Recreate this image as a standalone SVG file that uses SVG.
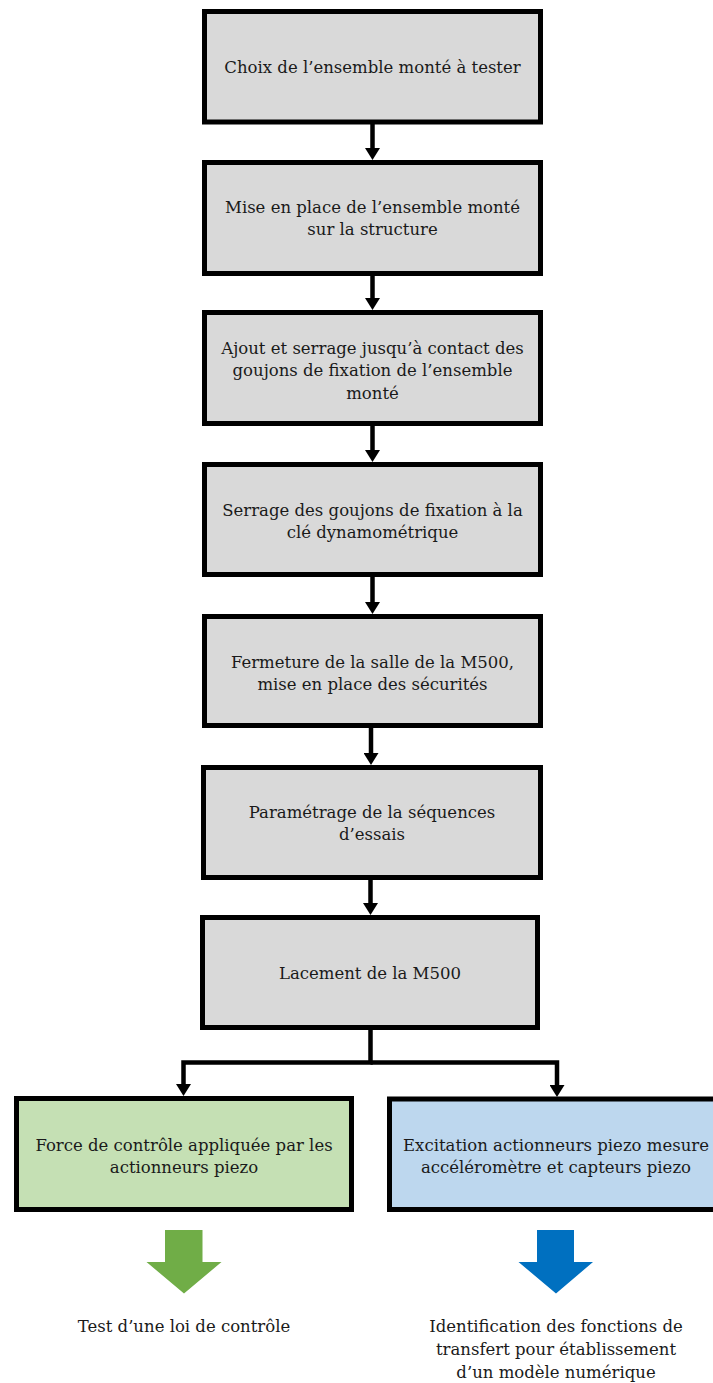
<svg xmlns="http://www.w3.org/2000/svg" width="713" height="1383" viewBox="0 0 713 1383">
<style>
.box{stroke:#000;stroke-width:5}
.gray{fill:#D9D9D9}
.green{fill:#C5E0B4}
.blue{fill:#BDD7EE}
.t{font-family:"DejaVu Serif","Liberation Serif",serif;font-size:16.5px;fill:#1a1a1a;text-anchor:middle}
.c{fill:none;stroke:#000;stroke-width:4.5}
</style>
<defs>
<marker id="ah" viewBox="0 0 12 15" markerWidth="12" markerHeight="15" refX="1" refY="7.5" orient="auto" markerUnits="userSpaceOnUse">
<path d="M0,0 L12,7.5 L0,15 z" fill="#000"/>
</marker>
</defs>
<rect width="713" height="1383" fill="#fff"/>
<g id="connectors">
<path class="c" d="M372.5,124 V149" marker-end="url(#ah)"/>
<path class="c" d="M372.5,276 V299" marker-end="url(#ah)"/>
<path class="c" d="M372.5,426 V451" marker-end="url(#ah)"/>
<path class="c" d="M372.5,577 V603" marker-end="url(#ah)"/>
<path class="c" d="M371,728 V754" marker-end="url(#ah)"/>
<path class="c" d="M370.5,880 V904" marker-end="url(#ah)"/>
<path class="c" d="M370.5,1030 V1062.5 H183.5 V1085" marker-end="url(#ah)"/>
<path class="c" d="M370.5,1062.5 H557 V1086" marker-end="url(#ah)"/>
</g>
<g id="n1"><rect class="box gray" x="204.5" y="11.5" width="336" height="110.5"/>
<text class="t" x="372.5" y="73">Choix de l’ensemble monté à tester</text></g>
<g id="n2"><rect class="box gray" x="204.5" y="162.5" width="336" height="111"/>
<text class="t" x="372.5" y="213">Mise en place de l’ensemble monté</text>
<text class="t" x="372.5" y="235">sur la structure</text></g>
<g id="n3"><rect class="box gray" x="204.5" y="312.5" width="336" height="111"/>
<text class="t" x="372.5" y="353.5">Ajout et serrage jusqu’à contact des</text>
<text class="t" x="372.5" y="376">goujons de fixation de l’ensemble</text>
<text class="t" x="372.5" y="398.5">monté</text></g>
<g id="n4"><rect class="box gray" x="204.5" y="464.5" width="336" height="110"/>
<text class="t" x="372.5" y="515.5">Serrage des goujons de fixation à la</text>
<text class="t" x="372.5" y="537.5">clé dynamométrique</text></g>
<g id="n5"><rect class="box gray" x="204.5" y="616.5" width="336" height="109"/>
<text class="t" x="372.5" y="667.5">Fermeture de la salle de la M500,</text>
<text class="t" x="372.5" y="689.5">mise en place des sécurités</text></g>
<g id="n6"><rect class="box gray" x="203.5" y="767.5" width="337" height="110"/>
<text class="t" x="372" y="818">Paramétrage de la séquences</text>
<text class="t" x="372" y="840">d’essais</text></g>
<g id="n7"><rect class="box gray" x="202.5" y="917.5" width="335" height="110"/>
<text class="t" x="370" y="978.5">Lacement de la M500</text></g>
<g id="n8"><rect class="box green" x="16.5" y="1098.5" width="335" height="111"/>
<text class="t" x="184" y="1151">Force de contrôle appliquée par les</text>
<text class="t" x="184" y="1173">actionneurs piezo</text></g>
<g id="n9"><rect class="box blue" x="389.5" y="1099" width="335" height="110.5"/>
<text class="t" x="556" y="1151">Excitation actionneurs piezo mesure</text>
<text class="t" x="556" y="1173">accéléromètre et capteurs piezo</text></g>
<g id="out1"><path d="M165,1230 H202.5 V1262 H221.5 L184,1293.5 L146.5,1262 H165 z" fill="#70AD47"/>
<text class="t" x="184" y="1332">Test d’une loi de contrôle</text></g>
<g id="out2"><path d="M537,1230 H574 V1262 H593 L556,1293.5 L518.5,1262 H537 z" fill="#0070C0"/>
<text class="t" x="556" y="1332">Identification des fonctions de</text>
<text class="t" x="556" y="1355">transfert pour établissement</text>
<text class="t" x="556" y="1378">d’un modèle numérique</text></g>
</svg>
